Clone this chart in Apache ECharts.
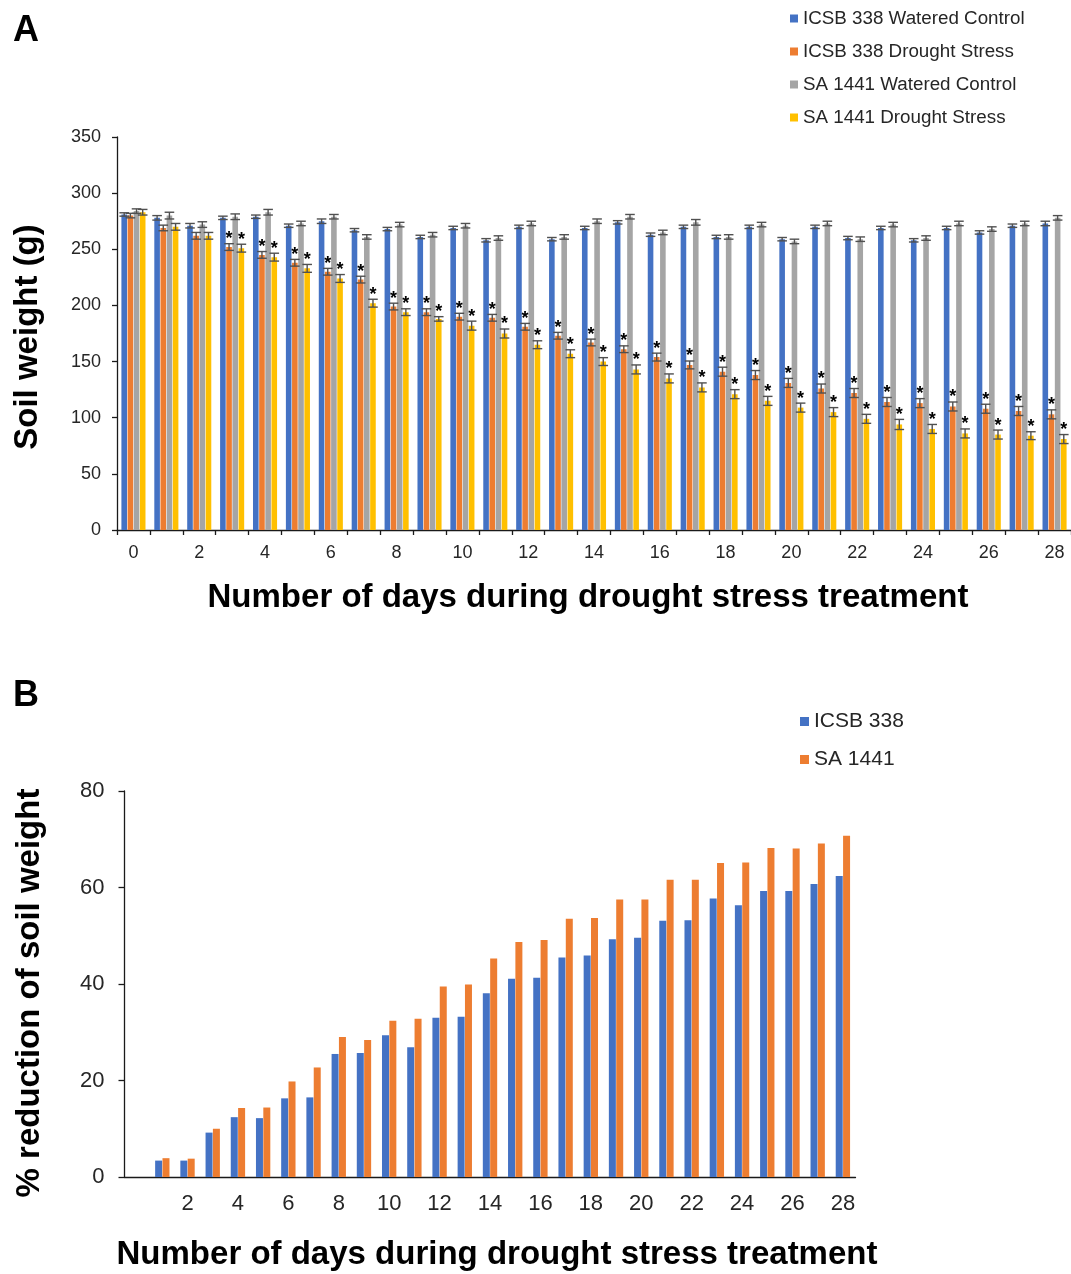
<!DOCTYPE html>
<html>
<head>
<meta charset="utf-8">
<title>Soil weight under drought stress</title>
<script src="https://cdn.jsdelivr.net/npm/echarts@6/dist/echarts.min.js"></script>
<style>
  html, body { margin: 0; padding: 0; background: #fff; }
  #chart { width: 1071px; height: 1274px; }
</style>
</head>
<body>
<div id="chart"></div>
<script>
// ---- Panel A: soil weight (g), days 0-28 ----
const daysA = ['0','1','2','3','4','5','6','7','8','9','10','11','12','13','14','15','16','17','18','19','20','21','22','23','24','25','26','27','28'];

const icsbWatered = [281, 278, 271, 278, 279, 271, 275, 267, 268, 261, 269, 258, 270, 259, 269, 274, 263, 270, 261, 270, 259, 270, 260, 269, 258, 269, 265, 271, 273];
const icsbDrought = [280, 269, 262, 252, 245, 238, 230, 223, 199, 194, 190, 189, 181, 173, 167, 161, 154, 147, 141, 138, 131, 126, 122, 114, 113, 110, 108, 106, 103];
const saWatered   = [284, 280, 272, 279, 283, 273, 279, 261, 272, 263, 271, 260, 273, 261, 275, 279, 265, 274, 261, 272, 257, 273, 259, 272, 260, 273, 268, 273, 278];
const saDrought   = [283, 270, 262, 251, 243, 233, 224, 202, 194, 188, 182, 175, 165, 157, 150, 143, 135, 127, 121, 115, 109, 105, 99, 94, 90, 86, 85, 84, 81];

// standard errors
const icsbWateredErr = [1.5, 2, 2, 1.5, 1.5, 1.5, 2, 1.5, 1.5, 1.5, 1.5, 1.5, 1.5, 1.5, 1.5, 1.5, 1.5, 1.5, 1.5, 1.5, 1.5, 1.5, 1.5, 1.5, 1.5, 1.5, 1.5, 1.5, 2];
const icsbDroughtErr = [2, 2.5, 3, 3, 3, 3, 3, 3, 3, 3, 3, 3, 3, 3, 3, 3, 3.5, 3.5, 4, 4, 4, 4, 4, 4, 4, 4, 4, 4, 4];
const saWateredErr   = [2, 3, 2.5, 2.5, 2.5, 2, 2, 2, 2, 2, 2, 2, 2, 2, 2, 2, 2, 2.5, 2, 2, 2, 2, 2, 2, 2, 2, 2, 2, 2];
const saDroughtErr   = [2.5, 3, 3, 3.5, 3.5, 3.5, 3.5, 3.5, 3, 2, 4, 4, 3.5, 3.5, 3.5, 4, 4, 4, 4, 4, 4, 4, 4, 4.5, 4, 4, 4, 3.5, 4];

// 1 = significantly different from the watered control (*)
const icsbDroughtSig = [0, 0, 0, 1, 1, 1, 1, 1, 1, 1, 1, 1, 1, 1, 1, 1, 1, 1, 1, 1, 1, 1, 1, 1, 1, 1, 1, 1, 1];
const saDroughtSig   = [0, 0, 0, 1, 1, 1, 1, 1, 1, 1, 1, 1, 1, 1, 1, 1, 1, 1, 1, 1, 1, 1, 1, 1, 1, 1, 1, 1, 1];

const seriesNamesA = ['ICSB 338 Watered Control', 'ICSB 338 Drought Stress', 'SA 1441 Watered Control', 'SA 1441 Drought Stress'];
const yTicksA = [0, 50, 100, 150, 200, 250, 300, 350];

// ---- Panel B: % reduction of soil weight, days 1-28 ----
const daysB = ['', '1','2','3','4','5','6','7','8','9','10','11','12','13','14','15','16','17','18','19','20','21','22','23','24','25','26','27','28'];
const icsbReduction = [null, 3.4, 3.4, 9.2, 12.4, 12.2, 16.3, 16.5, 25.5, 25.7, 29.4, 26.9, 33.0, 33.2, 38.1, 41.1, 41.3, 45.5, 45.9, 49.3, 49.6, 53.1, 53.2, 57.7, 56.3, 59.3, 59.3, 60.7, 62.4];
const saReduction   = [null, 3.9, 3.8, 10.0, 14.3, 14.4, 19.8, 22.7, 29.0, 28.4, 32.4, 32.8, 39.5, 39.9, 45.3, 48.7, 49.1, 53.5, 53.7, 57.5, 57.5, 61.6, 61.6, 65.1, 65.2, 68.2, 68.1, 69.1, 70.7];
const seriesNamesB = ['ICSB 338', 'SA 1441'];
const yTicksB = [0, 20, 40, 60, 80];

// ---- styling ----
const FONT = "'Liberation Sans', Arial, Helvetica, sans-serif";
const COLORS = ['#4472C4', '#ED7D31', '#A5A5A5', '#FFC000'];
const AXIS_COLOR = '#1a1a1a';
const LABEL_COLOR = '#262626';
const ERR_COLOR = '#505050';

const BAR_W_A = 5.6;
const BAR_GAP_A = 0.1;          // fraction of bar width
const BAR_PITCH_A = BAR_W_A * (1 + BAR_GAP_A);

function barsA(idx, values) {
  return {
    name: seriesNamesA[idx],
    type: 'bar',
    xAxisIndex: 0, yAxisIndex: 0,
    data: values,
    barWidth: BAR_W_A,
    barGap: (BAR_GAP_A * 100) + '%',
    itemStyle: { color: COLORS[idx] },
    z: 2
  };
}

function errorBarsA(idx, values, errors, sig) {
  const offset = (idx - 1.5) * BAR_PITCH_A;
  return {
    type: 'custom',
    xAxisIndex: 0, yAxisIndex: 0,
    encode: { x: 0, y: 1 },
    z: 5,
    silent: true,
    data: values.map((v, i) => [i, v, errors[i], sig ? sig[i] : 0]),
    renderItem(params, api) {
      const i = api.value(0), v = api.value(1), e = api.value(2), s = api.value(3);
      const hi = api.coord([i, v + e]);
      const lo = api.coord([i, v - e]);
      const x = hi[0] + offset;
      const cap = 4.8;
      const lineStyle = { stroke: ERR_COLOR, lineWidth: 1.4 };
      const children = [
        { type: 'line', shape: { x1: x, y1: hi[1], x2: x, y2: lo[1] }, style: lineStyle },
        { type: 'line', shape: { x1: x - cap, y1: hi[1], x2: x + cap, y2: hi[1] }, style: lineStyle },
        { type: 'line', shape: { x1: x - cap, y1: lo[1], x2: x + cap, y2: lo[1] }, style: lineStyle }
      ];
      if (s) {
        children.push({
          type: 'text',
          style: {
            text: '*', x: x, y: hi[1] - 4.5,
            fill: '#000', fontSize: 18, fontWeight: 'bold', fontFamily: FONT,
            align: 'center', verticalAlign: 'middle'
          }
        });
      }
      return { type: 'group', children };
    }
  };
}

function barsB(idx, values) {
  return {
    name: seriesNamesB[idx],
    type: 'bar',
    xAxisIndex: 1, yAxisIndex: 1,
    data: values,
    barWidth: 7,
    barGap: '5%',
    itemStyle: { color: COLORS[idx] }
  };
}

const chart = echarts.init(document.getElementById('chart'), null, { renderer: 'canvas' });

const option = {
  animation: false,
  backgroundColor: '#fff',
  textStyle: { fontFamily: FONT },
  grid: [
    { left: 117, top: 137, width: 958, height: 393, containLabel: false },
    { left: 124.5, top: 791, width: 731, height: 386, containLabel: false }
  ],
  legend: [
    {
      data: seriesNamesA,
      orient: 'vertical',
      left: 785, top: 4,
      icon: 'rect', itemWidth: 8, itemHeight: 8, itemGap: 14,
      selectedMode: false,
      textStyle: { fontSize: 18.8, lineHeight: 19, color: LABEL_COLOR, fontFamily: FONT }
    },
    {
      data: seriesNamesB,
      orient: 'vertical',
      left: 795, top: 706,
      icon: 'rect', itemWidth: 9, itemHeight: 9, itemGap: 17,
      selectedMode: false,
      textStyle: { fontSize: 21, lineHeight: 21, color: LABEL_COLOR, fontFamily: FONT }
    }
  ],
  xAxis: [
    {
      type: 'category', gridIndex: 0, data: daysA,
      axisLine: { lineStyle: { color: AXIS_COLOR, width: 1.3 } },
      axisTick: { show: true, interval: 0, length: 5, lineStyle: { color: AXIS_COLOR, width: 1.3 } },
      axisLabel: { interval: 1, margin: 14, fontSize: 18, color: LABEL_COLOR, fontFamily: FONT }
    },
    {
      type: 'category', gridIndex: 1, data: daysB,
      axisLine: { lineStyle: { color: AXIS_COLOR, width: 1.3 } },
      axisTick: { show: false },
      axisLabel: { interval: 1, margin: 16, fontSize: 22, color: LABEL_COLOR, fontFamily: FONT }
    }
  ],
  yAxis: [
    {
      type: 'value', gridIndex: 0,
      min: yTicksA[0], max: yTicksA[yTicksA.length - 1], interval: yTicksA[1] - yTicksA[0],
      splitLine: { show: false },
      axisLine: { show: true, lineStyle: { color: AXIS_COLOR, width: 1.3 } },
      axisTick: { show: true, length: 5, lineStyle: { color: AXIS_COLOR, width: 1.3 } },
      axisLabel: { margin: 16, fontSize: 18, color: LABEL_COLOR, fontFamily: FONT }
    },
    {
      type: 'value', gridIndex: 1,
      min: yTicksB[0], max: yTicksB[yTicksB.length - 1], interval: yTicksB[1] - yTicksB[0],
      splitLine: { show: false },
      axisLine: { show: true, lineStyle: { color: AXIS_COLOR, width: 1.3 } },
      axisTick: { show: true, length: 6, lineStyle: { color: AXIS_COLOR, width: 1.3 } },
      axisLabel: { margin: 20, fontSize: 22, color: LABEL_COLOR, fontFamily: FONT }
    }
  ],
  graphic: [
    { type: 'text', x: 13, y: 31, style: { text: 'A', fontSize: 36, fontWeight: 'bold', fontFamily: FONT, fill: '#000', align: 'left', verticalAlign: 'middle' } },
    { type: 'text', x: 28, y: 337, rotation: Math.PI / 2, style: { text: 'Soil weight (g)', fontSize: 33, fontWeight: 'bold', fontFamily: FONT, fill: '#000', align: 'center', verticalAlign: 'middle' } },
    { type: 'text', x: 588, y: 598, style: { text: 'Number of days during drought stress treatment', fontSize: 33, fontWeight: 'bold', fontFamily: FONT, fill: '#000', align: 'center', verticalAlign: 'middle' } },
    { type: 'text', x: 13, y: 696, style: { text: 'B', fontSize: 36, fontWeight: 'bold', fontFamily: FONT, fill: '#000', align: 'left', verticalAlign: 'middle' } },
    { type: 'text', x: 30, y: 993, rotation: Math.PI / 2, style: { text: '% reduction of soil weight', fontSize: 33, fontWeight: 'bold', fontFamily: FONT, fill: '#000', align: 'center', verticalAlign: 'middle' } },
    { type: 'text', x: 497, y: 1255, style: { text: 'Number of days during drought stress treatment', fontSize: 33, fontWeight: 'bold', fontFamily: FONT, fill: '#000', align: 'center', verticalAlign: 'middle' } }
  ],
  series: [
    barsA(0, icsbWatered),
    barsA(1, icsbDrought),
    barsA(2, saWatered),
    barsA(3, saDrought),
    errorBarsA(0, icsbWatered, icsbWateredErr, null),
    errorBarsA(1, icsbDrought, icsbDroughtErr, icsbDroughtSig),
    errorBarsA(2, saWatered, saWateredErr, null),
    errorBarsA(3, saDrought, saDroughtErr, saDroughtSig),
    barsB(0, icsbReduction),
    barsB(1, saReduction)
  ]
};

chart.setOption(option);
</script>
</body>
</html>
